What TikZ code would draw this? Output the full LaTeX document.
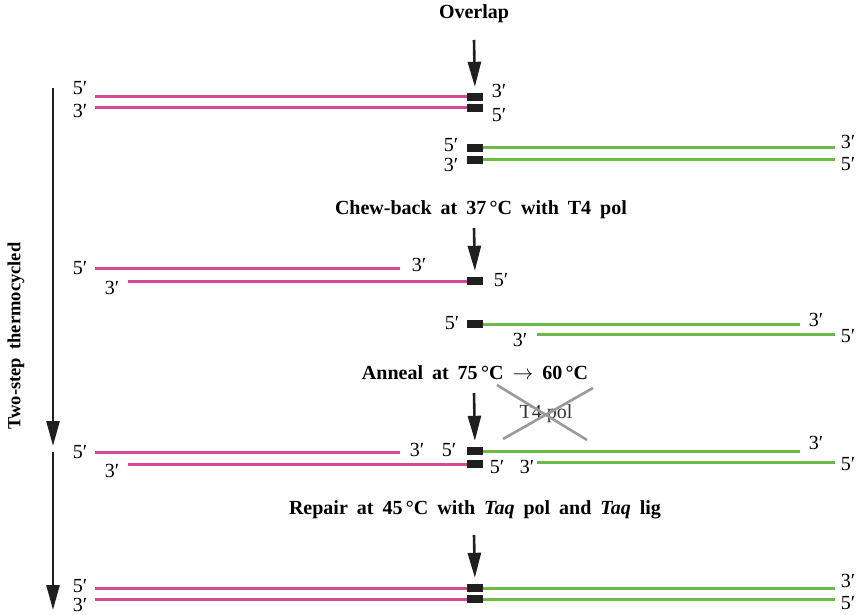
\documentclass[tikz,border=0pt]{standalone}
\usepackage{fontspec}
\setmainfont{Liberation Serif}
\newfontfamily\ttlfont[WordSpace=1.8]{Liberation Serif}
\usetikzlibrary{arrows.meta}
\definecolor{pinkdna}{HTML}{D64896}
\definecolor{greendna}{HTML}{6CBB45}
\definecolor{crossgray}{HTML}{9A9A9A}
\tikzset{
  blk/.style={fill=black!88,draw=none,minimum width=16pt,minimum height=8pt,inner sep=0pt},
  pinkline/.style={draw=pinkdna,line width=3pt},
  greenline/.style={draw=greendna,line width=3pt},
  lbl/.style={font=\fontsize{20}{20}\selectfont,inner sep=0pt},
  ttl/.style={font=\ttlfont\fontsize{20}{20}\selectfont\bfseries,inner sep=0pt},
  stepar/.style={draw=black!88,line width=2.6pt,-{Triangle[length=25pt,width=13pt]},shorten >=6pt},
  sidear/.style={draw=black!88,line width=2.6pt,-{Triangle[length=25pt,width=13pt]}},
}
\begin{document}
\begin{tikzpicture}[x=1pt,y=-1pt]
\useasboundingbox (0,0) rectangle (857,615);

% ---------- titles ----------
\node[ttl] (t1) at (474,14) {Overlap};
\node[ttl] (t2) at (481,210) {Chew-back at 37\,°C with T4 pol};
\node[ttl] (t3) at (475,373) {Anneal at 75\,°C $\rightarrow$ 60\,°C};
\node[ttl] (t4) at (475,510) {Repair at 45\,°C with \textit{Taq} pol and \textit{Taq} lig};

% ---------- side arrows ----------
\coordinate (s1) at (53,88);
\coordinate (s2) at (53,446);
\coordinate (s3) at (53,452);
\coordinate (s4) at (53,610);
\draw[sidear] (s1) -- (s2);
\draw[sidear] (s3) -- (s4);
\node[ttl,font=\ttlfont\fontsize{18.5}{18.5}\selectfont\bfseries,rotate=90] (side) at (16,336) {Two-step thermocycled};

% ---------- row 1: overlap ----------
\coordinate (a1) at (474,40);
\node[blk] (b1t) at (475,97) {};
\node[blk] (b1b) at (475,108) {};
\draw[stepar] (a1) -- (b1t.north);
\coordinate (p1t) at (95,97);
\coordinate (p1b) at (95,108);
\draw[pinkline] (p1t) -- (b1t.west);
\draw[pinkline] (p1b) -- (b1b.west);
\node[lbl] (l1a) at (80,88) {5′};
\node[lbl] (l1b) at (80,111) {3′};
\node[lbl] (l1c) at (499,91) {3′};
\node[lbl] (l1d) at (499,115) {5′};

\node[blk] (g1t) at (475,148) {};
\node[blk] (g1b) at (475,160) {};
\coordinate (q1t) at (835,148);
\coordinate (q1b) at (835,160);
\draw[greenline] (g1t.east) -- (q1t);
\draw[greenline] (g1b.east) -- (q1b);
\node[lbl] (l1e) at (451,145) {5′};
\node[lbl] (l1f) at (451,165) {3′};
\node[lbl] (l1g) at (848,142) {3′};
\node[lbl] (l1h) at (848,164) {5′};

% ---------- row 2: chew-back ----------
\coordinate (a2) at (474,228);
\node[blk] (b2) at (475,281) {};
\draw[stepar] (a2) -- (b2.north);
\coordinate (p2a) at (95,268);
\coordinate (p2b) at (400,268);
\coordinate (p2c) at (128,281);
\draw[pinkline] (p2a) -- (p2b);
\draw[pinkline] (p2c) -- (b2.west);
\node[lbl] (l2a) at (80,268) {5′};
\node[lbl] (l2b) at (419,265) {3′};
\node[lbl] (l2c) at (112,288) {3′};
\node[lbl] (l2d) at (501,280) {5′};

\node[blk] (g2) at (475,324) {};
\coordinate (q2a) at (800,324);
\coordinate (q2b) at (537,334);
\coordinate (q2c) at (835,334);
\draw[greenline] (g2.east) -- (q2a);
\draw[greenline] (q2b) -- (q2c);
\node[lbl] (l2e) at (452,323) {5′};
\node[lbl] (l2f) at (520,340) {3′};
\node[lbl] (l2g) at (816,320) {3′};
\node[lbl] (l2h) at (848,336) {5′};

% ---------- row 3: anneal ----------
\coordinate (a3) at (474,393);
\node[blk] (b3t) at (475,451) {};
\node[blk] (b3b) at (475,464) {};
\draw[stepar] (a3) -- (b3t.north);
\coordinate (p3a) at (95,452);
\coordinate (p3b) at (400,452);
\coordinate (p3c) at (128,464);
\draw[pinkline] (p3a) -- (p3b);
\draw[pinkline] (p3c) -- (b3b.west);
\coordinate (q3a) at (800,451);
\coordinate (q3b) at (537,462);
\coordinate (q3c) at (835,462);
\draw[greenline] (b3t.east) -- (q3a);
\draw[greenline] (q3b) -- (q3c);
\node[lbl] (l3a) at (80,452) {5′};
\node[lbl] (l3b) at (112,471) {3′};
\node[lbl] (l3c) at (417,450) {3′};
\node[lbl] (l3d) at (449,450) {5′};
\node[lbl] (l3e) at (497,467) {5′};
\node[lbl] (l3f) at (527,467) {3′};
\node[lbl] (l3g) at (816,443) {3′};
\node[lbl] (l3h) at (848,464) {5′};

% crossed-out T4 pol
\node[lbl,text=black!80] (t4pol) at (546,414) {T4 pol};
\coordinate (x1) at (497,385);
\coordinate (x2) at (587,440);
\coordinate (x3) at (593,388);
\coordinate (x4) at (503,439);
\draw[crossgray,line width=2.6pt] (x1) -- (x2);
\draw[crossgray,line width=2.6pt] (x3) -- (x4);

% ---------- row 4: repair ----------
\coordinate (a4) at (474,535);
\node[blk] (b4t) at (475,588) {};
\node[blk] (b4b) at (475,599) {};
\draw[stepar] (a4) -- (b4t.north);
\coordinate (p4a) at (95,588);
\coordinate (p4b) at (95,599);
\coordinate (q4a) at (835,588);
\coordinate (q4b) at (835,599);
\draw[pinkline] (p4a) -- (b4t.west);
\draw[pinkline] (p4b) -- (b4b.west);
\draw[greenline] (b4t.east) -- (q4a);
\draw[greenline] (b4b.east) -- (q4b);
\node[lbl] (l4a) at (80,586) {5′};
\node[lbl] (l4b) at (80,605) {3′};
\node[lbl] (l4c) at (848,581) {3′};
\node[lbl] (l4d) at (848,603) {5′};
\end{tikzpicture}
\end{document}
